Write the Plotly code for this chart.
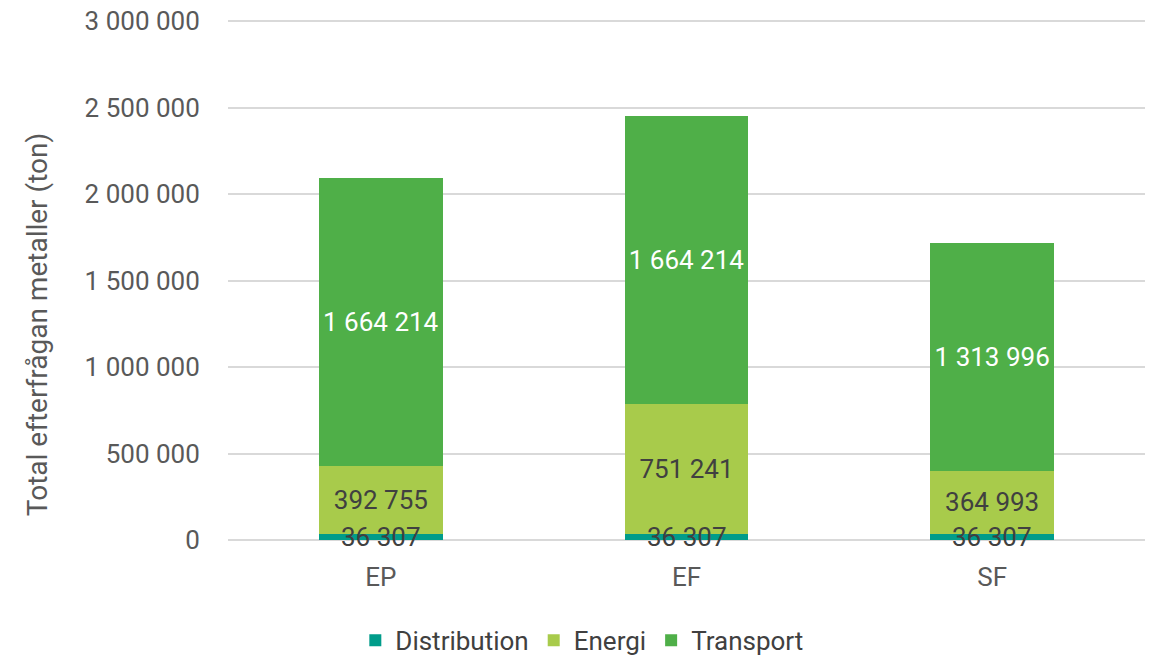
import plotly.graph_objects as go

categories = ["EP", "EF", "SF"]
distribution = [36307, 36307, 36307]
energi = [392755, 751241, 364993]
transport = [1664214, 1664214, 1313996]

y_ticks = [0, 500000, 1000000, 1500000, 2000000, 2500000, 3000000]
y_title = "Total efterfrågan metaller (ton)"

FONT = "Roboto, Arial, sans-serif"
C_DIST = "#009C8A"
C_ENER = "#A8CB4B"
C_TRAN = "#4FAF48"

fig = go.Figure()
fig.add_trace(go.Bar(name="Distribution", x=categories, y=distribution,
                     marker=dict(color=C_DIST, line=dict(width=0))))
fig.add_trace(go.Bar(name="Energi", x=categories, y=energi,
                     marker=dict(color=C_ENER, line=dict(width=0)),
                     text=energi, texttemplate="%{y:,d}", textposition="inside",
                     insidetextanchor="middle",
                     textfont=dict(family=FONT, size=26, color="#404040")))
fig.add_trace(go.Bar(name="Transport", x=categories, y=transport,
                     marker=dict(color=C_TRAN, line=dict(width=0)),
                     text=transport, texttemplate="%{y:,d}", textposition="inside",
                     insidetextanchor="middle",
                     textfont=dict(family=FONT, size=26, color="white")))

for c, v in zip(categories, distribution):
    fig.add_annotation(x=c, y=v / 2, text=f"{v:,d}".replace(",", " "),
                       showarrow=False, yanchor="middle",
                       font=dict(family=FONT, size=26, color="#404040"))

fig.add_annotation(xref="paper", yref="paper", x=0, y=0.41, xshift=-191,
                   xanchor="center", yanchor="middle", textangle=-90,
                   text=y_title, showarrow=False,
                   font=dict(family=FONT, size=28, color="#595959"))

fig.update_layout(
    width=1159, height=658,
    barmode="stack", bargap=0.595,
    separators=", ",
    plot_bgcolor="white", paper_bgcolor="white",
    margin=dict(l=228, r=14, t=16, b=118, autoexpand=False),
    font=dict(family=FONT, size=26, color="#595959"),
    legend=dict(orientation="h", xref="container", x=0.502, xanchor="center",
                yref="container", y=0.027, yanchor="middle",
                font=dict(family=FONT, size=26, color="#404040"),
                itemwidth=30, traceorder="normal"),
    xaxis=dict(showgrid=False, showline=False, automargin=False,
               ticks="outside", ticklen=14, tickcolor="rgba(0,0,0,0)",
               tickfont=dict(size=26, color="#595959")),
    yaxis=dict(range=[0, 3030000], tickvals=y_ticks, tickformat=",d",
               automargin=False,
               showgrid=True, gridcolor="#D9D9D9", gridwidth=2,
               zeroline=True, zerolinecolor="#D9D9D9", zerolinewidth=2,
               showline=False, ticks="outside", ticklen=22,
               tickcolor="rgba(0,0,0,0)",
               tickfont=dict(size=26, color="#595959")),
)

fig.write_html("out.html", config={"displayModeBar": False},
               post_script="document.body.style.margin='0';document.body.style.padding='0';")
